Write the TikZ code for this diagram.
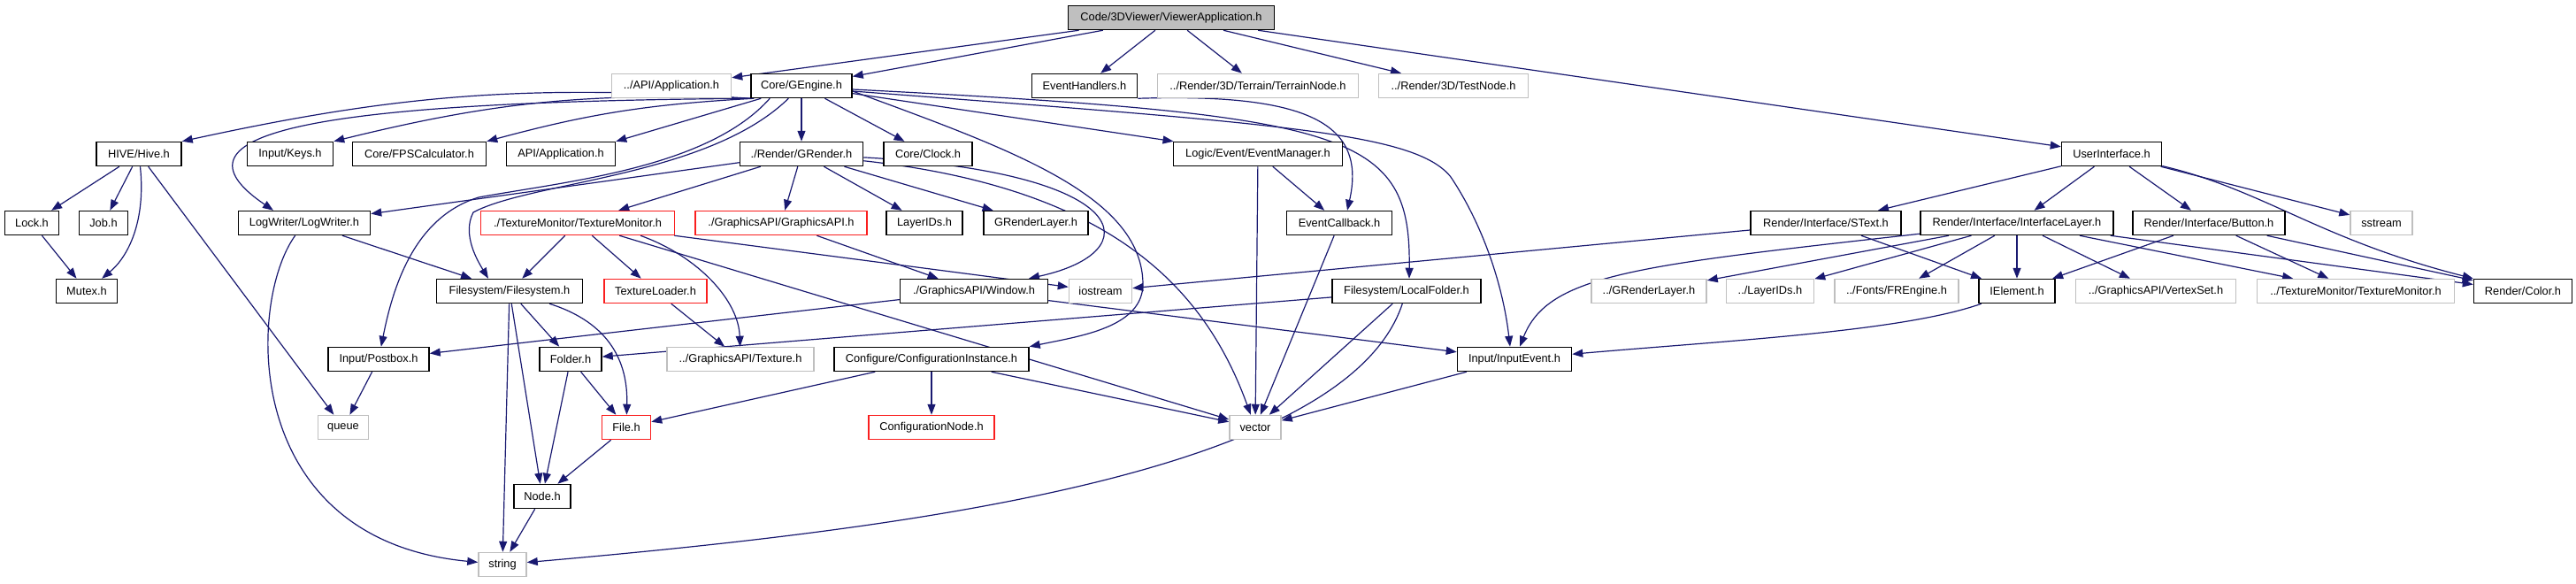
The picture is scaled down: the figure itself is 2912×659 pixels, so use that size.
\documentclass[tikz,border=0pt]{standalone}
\usepackage{fontspec}
\setmainfont{Liberation Sans}
\usetikzlibrary{arrows.meta}
\pgfdeclarelayer{bg}
\pgfsetlayers{bg,main}
\definecolor{edgec}{RGB}{25,25,112}
\definecolor{grayb}{RGB}{191,191,191}
\definecolor{redb}{RGB}{250,30,30}
\begin{document}
\begin{tikzpicture}[x=1pt,y=-1pt,
  box/.style={draw=black,line width=1.5pt,minimum height=27pt,inner sep=0pt,font=\fontsize{12.8}{14}\selectfont,fill=white},
  ext/.style={box,draw=grayb},
  trunc/.style={box,draw=redb},
  rootbox/.style={box,fill=grayb},
  dep/.style={draw=edgec,line width=1.2pt,-{Triangle[length=12pt,width=9pt]}}
]
\useasboundingbox (0,0) rectangle (2912,659);
% row 0
\node[rootbox,minimum width=233pt] (root) at (1324,20) {Code/3DViewer/ViewerApplication.h};
% row 1
\node[ext,minimum width=135pt] (apiapp1) at (759,97) {../API/Application.h};
\node[box,minimum width=114pt] (gengine) at (906,97) {Core/GEngine.h};
\node[box,minimum width=119pt] (evh) at (1226,97) {EventHandlers.h};
\node[ext,minimum width=227pt] (terrain) at (1422,97) {../Render/3D/Terrain/TerrainNode.h};
\node[ext,minimum width=169pt] (testnode) at (1643,97) {../Render/3D/TestNode.h};
% row 2
\node[box,minimum width=96pt] (hive) at (157,174) {HIVE/Hive.h};
\node[box,minimum width=97pt] (keys) at (328,174) {Input/Keys.h};
\node[box,minimum width=151pt] (fps) at (474,174) {Core/FPSCalculator.h};
\node[box,minimum width=123pt] (apiapp2) at (634,174) {API/Application.h};
\node[box,minimum width=139pt] (grender) at (906,174) {./Render/GRender.h};
\node[box,minimum width=100pt] (clock) at (1049,174) {Core/Clock.h};
\node[box,minimum width=191pt] (evmgr) at (1422,174) {Logic/Event/EventManager.h};
\node[box,minimum width=113pt] (ui) at (2387,174) {UserInterface.h};
% row 3
\node[box,minimum width=61pt] (lock) at (36,252) {Lock.h};
\node[box,minimum width=55pt] (job) at (117,252) {Job.h};
\node[box,minimum width=149pt] (logw) at (344,252) {LogWriter/LogWriter.h};
\node[trunc,minimum width=219pt] (texmon) at (653,252) {./TextureMonitor/TextureMonitor.h};
\node[trunc,minimum width=194pt] (gapi) at (883,252) {./GraphicsAPI/GraphicsAPI.h};
\node[box,minimum width=86pt] (layerids) at (1045,252) {LayerIDs.h};
\node[box,minimum width=118pt] (grl) at (1171,252) {GRenderLayer.h};
\node[box,minimum width=119pt] (evcb) at (1514,252) {EventCallback.h};
\node[box,minimum width=170pt] (stext) at (2064,252) {Render/Interface/SText.h};
\node[box,minimum width=218pt] (ilayer) at (2280,252) {Render/Interface/InterfaceLayer.h};
\node[box,minimum width=172pt] (button) at (2497,252) {Render/Interface/Button.h};
\node[ext,minimum width=70pt] (sstream) at (2692,252) {sstream};
% row 4
\node[box,minimum width=69pt] (mutex) at (98,329) {Mutex.h};
\node[box,minimum width=165pt] (fs) at (576,329) {Filesystem/Filesystem.h};
\node[trunc,minimum width=116pt] (texload) at (741,329) {TextureLoader.h};
\node[box,minimum width=167pt] (window) at (1101,329) {./GraphicsAPI/Window.h};
\node[ext,minimum width=71pt] (iostream) at (1244,329) {iostream};
\node[box,minimum width=168pt] (localf) at (1590,329) {Filesystem/LocalFolder.h};
\node[ext,minimum width=130pt] (grl2) at (1864,329) {../GRenderLayer.h};
\node[ext,minimum width=99pt] (layerids2) at (2001,329) {../LayerIDs.h};
\node[ext,minimum width=140pt] (frengine) at (2144,329) {../Fonts/FREngine.h};
\node[box,minimum width=86pt] (ielement) at (2280,329) {IElement.h};
\node[ext,minimum width=181pt] (vertexset) at (2437,329) {../GraphicsAPI/VertexSet.h};
\node[ext,minimum width=223pt] (texmon2) at (2663,329) {../TextureMonitor/TextureMonitor.h};
\node[box,minimum width=111pt] (color) at (2852,329) {Render/Color.h};
% row 5
\node[box,minimum width=114pt] (postbox) at (428,406) {Input/Postbox.h};
\node[box,minimum width=70pt] (folder) at (645,406) {Folder.h};
\node[ext,minimum width=166pt] (texture) at (837,406) {../GraphicsAPI/Texture.h};
\node[box,minimum width=220pt] (cfginst) at (1053,406) {Configure/ConfigurationInstance.h};
\node[box,minimum width=129pt] (inputev) at (1712,406) {Input/InputEvent.h};
% row 6
\node[ext,minimum width=57pt] (queue) at (388,483) {queue};
\node[trunc,minimum width=55pt] (file) at (708,483) {File.h};
\node[trunc,minimum width=142pt] (cfgnode) at (1053,483) {ConfigurationNode.h};
\node[ext,minimum width=58pt] (vector) at (1419,483) {vector};
% row 7-8
\node[box,minimum width=64pt] (node) at (613,561) {Node.h};
\node[ext,minimum width=54pt] (string) at (568,638) {string};

\begin{pgfonlayer}{bg}
\draw[dep] (root) -- (apiapp1);
\draw[dep] (root) -- (gengine);
\draw[dep] (root) -- (evh);
\draw[dep] (root) -- (terrain);
\draw[dep] (root) -- (testnode);
\draw[dep] (root) -- (ui);

\draw[dep] (gengine.south west) to[bend right=8] (hive.north east);
\draw[dep] (gengine.south west) to[bend right=8] (keys.north east);
\draw[dep] ([xshift=4pt]gengine.south west) to[bend right=6] (fps.north east);
\draw[dep] ([xshift=12pt]gengine.south west) -- (apiapp2.north east);
\draw[dep] (gengine.south west) .. controls (350,115) and (180,150) .. ([xshift=-35pt]logw.north);
\draw[dep] (gengine) .. controls (800,200) and (600,205) .. (535,240) .. controls (522,265) and (540,295) .. ([xshift=-24pt]fs.north);
\draw[dep] ([xshift=22pt]gengine.south west) .. controls (800,190) and (640,205) .. (541,223) .. controls (470,245) and (445,320) .. (postbox);
\draw[dep] (gengine) -- (grender);
\draw[dep] (gengine) -- (clock);
\draw[dep] (gengine) -- (evmgr);
\draw[dep] ([yshift=-6pt]gengine.east) .. controls (1140,168) and (1290,220) .. (1292,320) .. controls (1293,370) and (1220,380) .. (cfginst.north east);
\draw[dep] ([yshift=-4pt]gengine.east) .. controls (1530,130) and (1595,150) .. ([xshift=3pt]localf.north);
\draw[dep] ([yshift=-6pt]gengine.east) .. controls (1450,140) and (1600,150) .. (1640,200) .. controls (1680,260) and (1700,330) .. ([xshift=-5pt]inputev.north);

\draw[dep] (evh.south east) .. controls (1480,105) and (1545,140) .. ([xshift=9pt]evcb.north);

\draw[dep] (hive) -- (lock);
\draw[dep] (hive) -- (job);
\draw[dep] (hive) .. controls (165,250) and (145,290) .. (mutex);
\draw[dep] (hive) -- (queue);
\draw[dep] (lock) -- (mutex);

\draw[dep] (grender) -- (logw);
\draw[dep] (grender) -- (texmon);
\draw[dep] (grender) -- (gapi);
\draw[dep] (grender) -- (layerids);
\draw[dep] (grender) -- (grl);
\draw[dep] (grender) .. controls (1285,195) and (1300,285) .. ([xshift=62pt]window.north);
\draw[dep] (grender) .. controls (1250,212) and (1360,320) .. (vector);

\draw[dep] (logw) -- (fs);
\draw[dep] (logw) .. controls (280,340) and (270,610) .. (string);

\draw[dep] (texmon) -- (fs);
\draw[dep] (texmon) -- (texload);
\draw[dep] ([xshift=71pt]texmon.south) .. controls (790,290) and (835,340) .. (texture);
\draw[dep] (texmon) -- (vector);
\draw[dep] (texmon) -- (iostream);
\draw[dep] (gapi) -- (window);
\draw[dep] (texload) -- (texture);

\draw[dep] (window) -- (postbox);
\draw[dep] (window) -- (inputev);

\draw[dep] (evmgr) -- (evcb);
\draw[dep] (evmgr) -- (vector);
\draw[dep] (evcb) -- (vector);

\draw[dep] (localf) -- (folder);
\draw[dep] (localf) -- (vector);
\draw[dep] (localf) .. controls (1520,540) and (1000,600) .. (string);

\draw[dep] (fs) -- (folder);
\draw[dep] (fs) .. controls (690,365) and (710,410) .. (file);
\draw[dep] (fs) -- (node);
\draw[dep] (fs) -- (string);
\draw[dep] (folder) -- (file);
\draw[dep] (folder) -- (node);
\draw[dep] (file) -- (node);
\draw[dep] (node) -- (string);
\draw[dep] (postbox) -- (queue);

\draw[dep] (cfginst) -- (file);
\draw[dep] (cfginst) -- (cfgnode);
\draw[dep] (cfginst) -- (vector);
\draw[dep] (inputev) -- (vector);

\draw[dep] (ui) -- (stext);
\draw[dep] (ui) -- (ilayer);
\draw[dep] (ui) -- (button);
\draw[dep] (ui) -- (sstream);
\draw[dep] (ui) .. controls (2560,215) and (2620,270) .. (color.north west);

\draw[dep] (stext) -- (iostream);
\draw[dep] (stext) -- (ielement);

\draw[dep] (ilayer) -- (grl2);
\draw[dep] (ilayer) -- (layerids2);
\draw[dep] (ilayer) -- (frengine);
\draw[dep] (ilayer) -- (ielement);
\draw[dep] (ilayer) -- (vertexset);
\draw[dep] (ilayer) -- (texmon2);
\draw[dep] (ilayer) -- (color);
\draw[dep] (ilayer) .. controls (1850,300) and (1750,310) .. ([xshift=6pt]inputev.north);

\draw[dep] (button) -- (ielement);
\draw[dep] (button) -- (texmon2);
\draw[dep] (button) -- (color);

\draw[dep] (ielement) .. controls (2150,375) and (1950,385) .. (inputev);
\end{pgfonlayer}
\end{tikzpicture}
\end{document}
